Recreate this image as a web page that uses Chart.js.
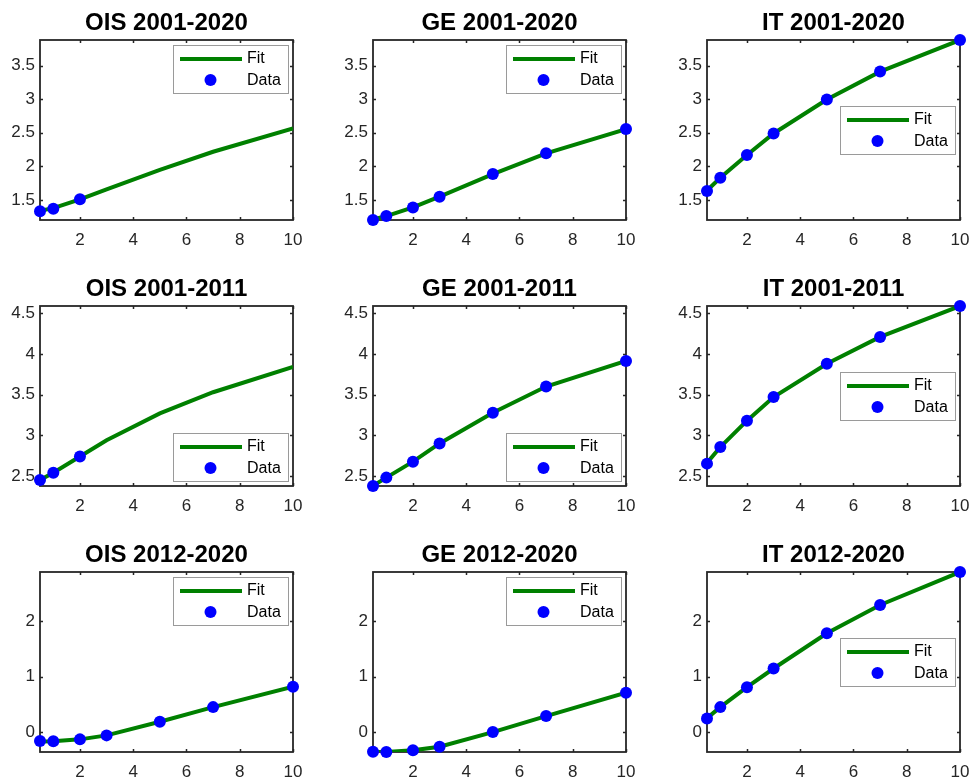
<!DOCTYPE html>
<html>
<head>
<meta charset="utf-8">
<script src="https://cdn.jsdelivr.net/npm/chart.js@4"></script>
<style>
  html, body { margin:0; padding:0; background:#ffffff; width:972px; height:779px; overflow:hidden; }
  canvas { position:absolute; }
</style>
</head>
<body>
<script>
// ---------------- DATA ----------------
const maturities = [0.5, 1, 2, 3, 5, 7, 10];
const xTickValues = [2, 4, 6, 8, 10];

const titles = [
  'OIS 2001-2020', 'GE 2001-2020', 'IT 2001-2020',
  'OIS 2001-2011', 'GE 2001-2011', 'IT 2001-2011',
  'OIS 2012-2020', 'GE 2012-2020', 'IT 2012-2020'
];

// 2001-2020
const fitOIS_full  = [1.340, 1.380, 1.510, 1.660, 1.950, 2.218, 2.565];
const dataOIS_full = [1.332, 1.371, 1.510, null, null, null, null];
const fitGE_full   = [1.210, 1.262, 1.390, 1.550, 1.886, 2.194, 2.555];
const dataGE_full  = [1.203, 1.262, 1.390, 1.550, 1.886, 2.194, 2.555];
const fitIT_full   = [1.640, 1.830, 2.170, 2.490, 2.996, 3.410, 3.880];
const dataIT_full  = [1.634, 1.830, 2.170, 2.490, 2.996, 3.410, 3.880];

// 2001-2011
const fitOIS_pre   = [2.450, 2.540, 2.740, 2.940, 3.270, 3.530, 3.840];
const dataOIS_pre  = [2.450, 2.540, 2.740, null, null, null, null];
const fitGE_pre    = [2.380, 2.480, 2.676, 2.900, 3.277, 3.600, 3.914];
const dataGE_pre   = [2.377, 2.480, 2.676, 2.900, 3.277, 3.600, 3.914];
const fitIT_pre    = [2.660, 2.856, 3.180, 3.470, 3.880, 4.210, 4.590];
const dataIT_pre   = [2.652, 2.856, 3.180, 3.470, 3.880, 4.210, 4.590];

// 2012-2020
const fitOIS_post  = [-0.170, -0.168, -0.132, -0.060, 0.186, 0.450, 0.817];
const dataOIS_post = [-0.162, -0.168, -0.132, -0.060, 0.186, 0.450, 0.817];
const fitGE_post   = [-0.360, -0.360, -0.330, -0.264, 0.000, 0.288, 0.709];
const dataGE_post  = [-0.355, -0.360, -0.330, -0.264, 0.000, 0.288, 0.709];
const fitIT_post   = [0.250, 0.450, 0.810, 1.147, 1.784, 2.294, 2.889];
const dataIT_post  = [0.246, 0.450, 0.810, 1.147, 1.784, 2.294, 2.889];

const yTicksFull = [1.5, 2, 2.5, 3, 3.5];
const yTicksPre  = [2.5, 3, 3.5, 4, 4.5];
const yTicksPost = [0, 1, 2];

const fits  = [fitOIS_full, fitGE_full, fitIT_full, fitOIS_pre, fitGE_pre, fitIT_pre, fitOIS_post, fitGE_post, fitIT_post];
const datas = [dataOIS_full, dataGE_full, dataIT_full, dataOIS_pre, dataGE_pre, dataIT_pre, dataOIS_post, dataGE_post, dataIT_post];
const rowTicks = [yTicksFull, yTicksPre, yTicksPost];
const legendLocs = ['ne','ne','e','se','se','e','ne','ne','e'];

// ---------------- LAYOUT ----------------
const plotLefts = [40, 373, 707];
const plotTops  = [40, 306, 572];
const plotW = 253, plotH = 180;
const padL = 45, padT = 40, padR = 12, padB = 32;

const AX = '#262626';
const GREEN = '#008000';
const BLUE = '#0000ff';
const FONT = '"Liberation Sans", Arial, Helvetica, sans-serif';

Chart.defaults.font.family = FONT;
Chart.defaults.color = AX;

function rowLimits(r) {
  let lo = Infinity, hi = -Infinity;
  for (let c = 0; c < 3; c++) {
    const i = r * 3 + c;
    [fits[i], datas[i]].forEach(arr => arr.forEach(v => { if (v !== null) { lo = Math.min(lo, v); hi = Math.max(hi, v); } }));
  }
  return [lo, hi];
}

const decorPlugin = {
  id: 'decor',
  beforeDatasetsDraw(chart) {
    const {ctx, chartArea: a, scales} = chart;
    ctx.save();
    ctx.strokeStyle = AX;
    ctx.lineWidth = 1.5;
    const tl = 3;
    ctx.beginPath();
    scales.x.ticks.forEach(t => {
      const px = Math.round(scales.x.getPixelForValue(t.value)) + 0.5;
      ctx.moveTo(px, a.bottom); ctx.lineTo(px, a.bottom - tl);
      ctx.moveTo(px, a.top); ctx.lineTo(px, a.top + tl);
    });
    scales.y.ticks.forEach(t => {
      const py = Math.round(scales.y.getPixelForValue(t.value)) + 0.5;
      ctx.moveTo(a.left, py); ctx.lineTo(a.left + tl, py);
      ctx.moveTo(a.right, py); ctx.lineTo(a.right - tl, py);
    });
    ctx.stroke();
    ctx.lineWidth = 1.8;
    ctx.strokeRect(a.left, a.top, a.right - a.left, a.bottom - a.top);
    ctx.restore();
  },
  afterDraw(chart) {
    const {ctx, chartArea: a} = chart;
    const o = chart.options.plugins.decor;
    ctx.save();
    // title
    ctx.fillStyle = '#000000';
    ctx.font = 'bold 24px ' + FONT;
    ctx.textAlign = 'center';
    ctx.textBaseline = 'alphabetic';
    ctx.fillText(o.title, (a.left + a.right) / 2, a.top - 10);
    // legend
    const bw = 115, bh = 48;
    const bx = a.right - 5 - bw;
    let by;
    if (o.loc === 'ne') by = a.top + 5;
    else if (o.loc === 'se') by = a.bottom - 5 - bh;
    else by = (a.top + a.bottom) / 2 - bh / 2;
    ctx.fillStyle = '#ffffff';
    ctx.fillRect(bx, by, bw, bh);
    ctx.strokeStyle = '#9a9a9a';
    ctx.lineWidth = 1;
    ctx.strokeRect(Math.round(bx) + 0.5, Math.round(by) + 0.5, bw, bh);
    ctx.strokeStyle = GREEN;
    ctx.lineWidth = 4;
    ctx.beginPath();
    ctx.moveTo(bx + 7, by + 14); ctx.lineTo(bx + 69, by + 14);
    ctx.stroke();
    ctx.fillStyle = BLUE;
    ctx.beginPath();
    ctx.arc(bx + 37.5, by + 35, 6, 0, Math.PI * 2);
    ctx.fill();
    ctx.fillStyle = '#000000';
    ctx.font = '16px ' + FONT;
    ctx.textAlign = 'left';
    ctx.textBaseline = 'middle';
    ctx.fillText('Fit', bx + 74, by + 14);
    ctx.fillText('Data', bx + 74, by + 35.5);
    ctx.restore();
  }
};

for (let i = 0; i < 9; i++) {
  const r = Math.floor(i / 3), c = i % 3;
  const cv = document.createElement('canvas');
  const W = padL + plotW + padR, H = padT + plotH + padB;
  cv.width = W; cv.height = H;
  cv.style.width = W + 'px'; cv.style.height = H + 'px';
  cv.style.left = (plotLefts[c] - padL) + 'px';
  cv.style.top = (plotTops[r] - padT) + 'px';
  document.body.appendChild(cv);
  const [lo, hi] = rowLimits(r);
  const yt = rowTicks[r];

  new Chart(cv, {
    type: 'line',
    data: {
      datasets: [
        {
          label: 'Fit',
          data: maturities.map((x, k) => ({x: x, y: fits[i][k]})),
          borderColor: GREEN, borderWidth: 4, pointRadius: 0, tension: 0,
          fill: false, order: 2
        },
        {
          label: 'Data',
          data: maturities.map((x, k) => ({x: x, y: datas[i][k]})).filter(p => p.y !== null),
          showLine: false, pointRadius: 6, pointBorderWidth: 0,
          pointBackgroundColor: BLUE, pointBorderColor: BLUE, backgroundColor: BLUE,
          clip: false, order: 1
        }
      ]
    },
    options: {
      responsive: false, animation: false, devicePixelRatio: 1,
      layout: { padding: { top: padT, right: padR, left: 0, bottom: 0 } },
      plugins: {
        legend: { display: false },
        tooltip: { enabled: false },
        decor: { title: titles[i], loc: legendLocs[i] }
      },
      scales: {
        x: {
          type: 'linear', min: 0.5, max: 10,
          afterFit: s => { s.height = padB; s.paddingLeft = 0; s.paddingRight = 0; },
          afterBuildTicks: s => { s.ticks = xTickValues.map(v => ({value: v})); },
          grid: { display: false, drawTicks: false },
          border: { display: false },
          ticks: { padding: 10, font: { size: 17 }, color: AX, maxRotation: 0, autoSkip: false, callback: v => String(v) }
        },
        y: {
          type: 'linear', min: lo, max: hi,
          afterFit: s => { s.width = padL; s.paddingTop = 0; s.paddingBottom = 0; },
          afterBuildTicks: s => { s.ticks = yt.map(v => ({value: v})); },
          grid: { display: false, drawTicks: false },
          border: { display: false },
          ticks: { padding: 5, font: { size: 17 }, color: AX, autoSkip: false, callback: v => String(v) }
        }
      }
    },
    plugins: [decorPlugin]
  });
}
</script>
</body>
</html>
